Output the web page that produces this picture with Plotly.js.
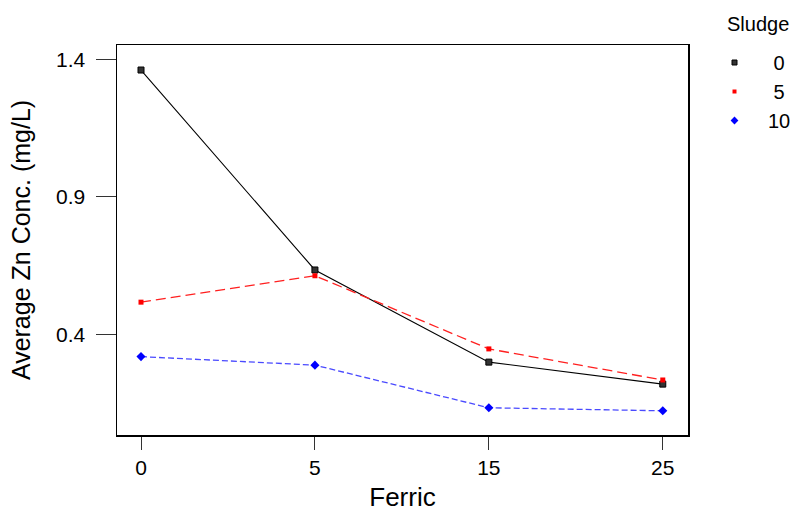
<!DOCTYPE html>
<html>
<head>
<meta charset="utf-8">
<script src="https://cdn.plot.ly/plotly-3.0.1.min.js"></script>
<style>html,body{margin:0;padding:0;background:#fff;}#chart{width:795px;height:512px;}</style>
</head>
<body>
<div id="chart"></div>
<script>
var ferric = ["0", "5", "15", "25"];
var sludgeLevels = ["0", "5", "10"];
var sludge0 = [1.361, 0.634, 0.299, 0.219];
var sludge5 = [0.517, 0.613, 0.347, 0.234];
var sludge10 = [0.319, 0.288, 0.133, 0.122];
var yTicks = [0.4, 0.9, 1.4];
var yTickText = ["0.4", "0.9", "1.4"];

var FONT = "Liberation Sans, Arial, sans-serif";
var styles = [
  {line: {color: "#000000", width: 1.1, dash: "solid"}, marker: {symbol: "square", size: 6, color: "#333333", line: {color: "#000000", width: 1}}},
  {line: {color: "#ff2020", width: 1.3, dash: "10px,5px"}, marker: {symbol: "square", size: 5, color: "#ff0000", line: {width: 0}}},
  {line: {color: "#4a4aff", width: 1.3, dash: "6px,3px"}, marker: {symbol: "diamond", size: 7, color: "#0000ff", line: {width: 0}}}
];
var legendMarkers = [
  {symbol: "square", size: 5, color: "#333333", line: {color: "#000000", width: 1}},
  {symbol: "square", size: 4, color: "#ff0000", line: {width: 0}},
  {symbol: "diamond", size: 6, color: "#0000ff", line: {width: 0}}
];
var series = [sludge0, sludge5, sludge10];
var labels = [" " + sludgeLevels[0], " " + sludgeLevels[1], sludgeLevels[2]];

var traces = [];
series.forEach(function (ys, i) {
  traces.push({
    x: ferric, y: ys, type: "scatter", mode: "lines+markers",
    line: styles[i].line, marker: styles[i].marker,
    showlegend: false, hoverinfo: "x+y"
  });
});
series.forEach(function (ys, i) {
  traces.push({
    x: [null], y: [null], type: "scatter", mode: "markers",
    marker: legendMarkers[i], name: labels[i], showlegend: true
  });
});

var layout = {
  width: 795, height: 512,
  margin: {l: 117, r: 107, t: 45, b: 77, autoexpand: false},
  paper_bgcolor: "#ffffff", plot_bgcolor: "#ffffff",
  font: {family: FONT, size: 20, color: "#000000"},
  showlegend: true,
  legend: {
    x: (701 - 117) / 571, xanchor: "left", y: (435 - 43) / 390, yanchor: "top",
    itemwidth: 57, bgcolor: "rgba(0,0,0,0)",
    font: {family: FONT, size: 20, color: "#000"}
  },
  annotations: [{
    text: "Sludge", xref: "paper", yref: "paper",
    x: (758 - 117) / 571, y: (435 - 24) / 390, xanchor: "center", yanchor: "middle",
    showarrow: false, font: {family: FONT, size: 20, color: "#000"}
  }],
  xaxis: {
    type: "category", range: [-0.138, 3.145],
    showgrid: false, zeroline: false,
    showline: true, mirror: true, linecolor: "#000", linewidth: 1.5,
    ticks: "outside", ticklen: 13, tickcolor: "#333", tickwidth: 1,
    tickfont: {family: FONT, size: 21, color: "#000"},
    title: {text: "Ferric", font: {family: FONT, size: 26, color: "#000"}, standoff: 16}
  },
  yaxis: {
    range: [0.034, 1.452],
    tickmode: "array", tickvals: yTicks, ticktext: yTickText,
    showgrid: false, zeroline: false,
    showline: true, mirror: true, linecolor: "#000", linewidth: 1.5,
    ticks: "outside", ticklen: 20, tickcolor: "#333", tickwidth: 1,
    ticklabelstandoff: 6,
    tickfont: {family: FONT, size: 21, color: "#000"},
    title: {text: "Average Zn Conc. (mg/L)", font: {family: FONT, size: 25, color: "#000"}, standoff: 18}
  }
};

Plotly.newPlot("chart", traces, layout, {displayModeBar: false, staticPlot: true});
</script>
</body>
</html>
